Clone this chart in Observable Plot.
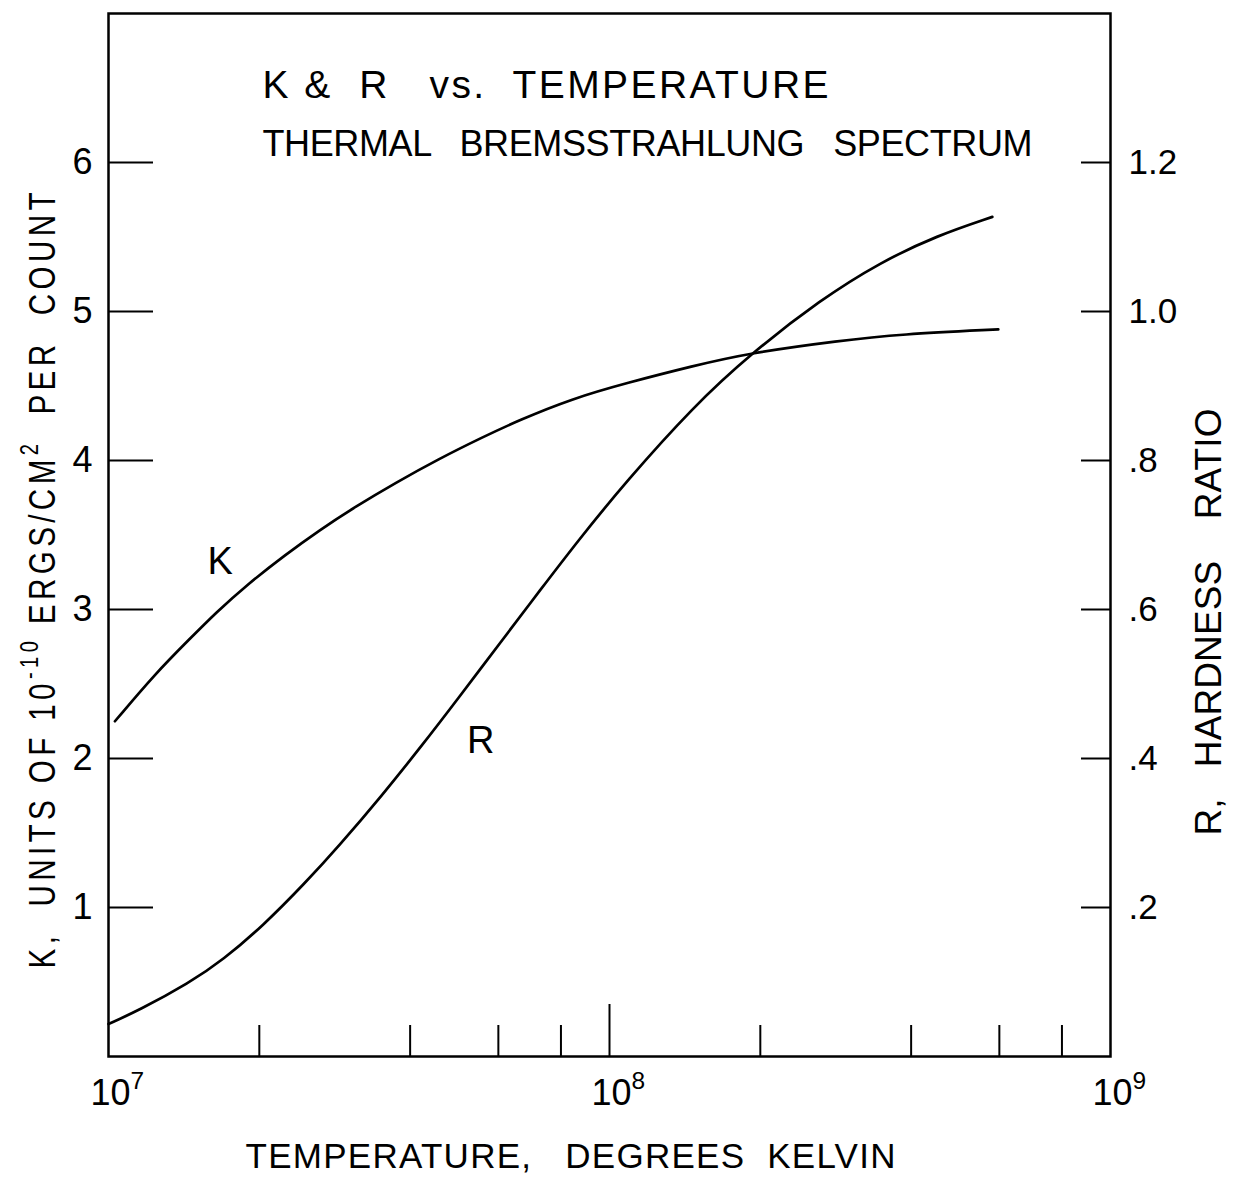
<!DOCTYPE html>
<html>
<head>
<meta charset="utf-8">
<script src="https://cdn.jsdelivr.net/npm/d3@7"></script>
<script src="https://cdn.jsdelivr.net/npm/@observablehq/plot@0.6"></script>
<style>
  html, body { margin: 0; padding: 0; background: #fff; }
  svg text { white-space: pre; }
</style>
</head>
<body>
<div id="chart"></div>
<script>
// ---- data ----
const kTemperature = [1.03e7, 1.24e7, 1.45e7, 1.64e7, 1.88e7, 2.26e7, 2.63e7, 3.11e7, 3.74e7, 4.56e7, 5.57e7, 6.59e7, 8.42e7, 1.08e8, 1.47e8, 1.89e8, 2.89e8, 3.8e8, 5.97e8];
const kValue       = [2.25,   2.57,   2.80,   2.98,   3.16,   3.37,   3.53,   3.69,   3.85,   4.01,   4.155,  4.27,   4.415,  4.52,   4.635,  4.72,   4.805,  4.847, 4.88];
const rTemperature = [1.0e7,  1.15e7, 1.45e7, 1.69e7, 2.03e7, 2.47e7, 2.88e7, 3.52e7, 4.23e7, 4.93e7, 6.2e7, 7.23e7, 8.68e7, 1.08e8, 1.47e8, 1.91e8, 2.64e8, 3.47e8, 4.51e8, 5.81e8];
const rValue       = [0.0436, 0.0619, 0.0988, 0.1293, 0.1749, 0.2330, 0.2822, 0.3509, 0.4180, 0.4761, 0.5647, 0.6238, 0.6936, 0.7719, 0.8723, 0.9427, 1.016, 1.066, 1.102, 1.127];

const kTicks = [1, 2, 3, 4, 5, 6];
const kTickLabels = ["1", "2", "3", "4", "5", "6"];
const rTicks = [0.2, 0.4, 0.6, 0.8, 1.0, 1.2];
const rTickLabels = [".2", ".4", ".6", ".8", "1.0", "1.2"];
const tempDecades = [1e7, 1e8, 1e9];
const tempDecadeLabels = ["10^{7}", "10^{8}", "10^{9}"];
const tempMinorTicks = [2e7, 4e7, 6e7, 8e7, 2e8, 4e8, 6e8, 8e8];
const tempLongTicks = [1e8];

const curveLabelText = ["K", "R"];
const curveLabelTemperature = [1.67e7, 5.53e7];
const curveLabelValue = [3.32, 0.424];     // K units for "K", R units for "R"
const curveLabelAxis = ["K", "R"];

const titleLine1 = "K &  R   vs.  TEMPERATURE";
const titleLine2 = "THERMAL   BREMSSTRAHLUNG   SPECTRUM";
const xLabel = "TEMPERATURE,   DEGREES  KELVIN";
const yLeftLabel = "K,  UNITS OF 10^{-10} ERGS/CM^{2}  PER  COUNT";
const yRightLabel = "R,   HARDNESS    RATIO";

// R axis (right) spans 0–1.4 where the K axis spans 0–7
const R_TO_K = 5;

// ---- tables for the library ----
const kData = kTemperature.map((t, i) => ({t, y: kValue[i]}));
const rData = rTemperature.map((t, i) => ({t, y: rValue[i] * R_TO_K}));
const labelData = curveLabelText.map((text, i) => ({
  text, t: curveLabelTemperature[i],
  y: curveLabelAxis[i] === "R" ? curveLabelValue[i] * R_TO_K : curveLabelValue[i]
}));
const rTickPos = rTicks.map(r => r * R_TO_K);

const chart = Plot.plot({
  width: 1244,
  height: 1185,
  marginLeft: 108,
  marginRight: 134,
  marginTop: 13,
  marginBottom: 129,
  style: {fontFamily: "'Liberation Sans', Arial, 'DejaVu Sans', sans-serif", fontSize: "36px", color: "black", background: "white"},
  x: {type: "log", domain: [1e7, 1e9]},
  y: {domain: [0, 7]},
  marks: [
    Plot.frame({stroke: "black", strokeWidth: 2.5}),
    // left K axis (ticks drawn inward)
    Plot.axisY({anchor: "left", ticks: kTicks, tickFormat: d => kTickLabels[kTicks.indexOf(d)],
      tickSize: -45, tickPadding: 61, strokeWidth: 2, fontSize: 36, label: null}),
    // right R axis
    Plot.axisY({anchor: "right", ticks: rTickPos, tickFormat: d => rTickLabels[rTickPos.indexOf(d)],
      tickSize: -30, tickPadding: 48, strokeWidth: 2, fontSize: 35, label: null}),
    // bottom ticks, inward
    Plot.axisX({ticks: tempMinorTicks, tickSize: -31, strokeWidth: 2, fill: "none", label: null}),
    Plot.axisX({ticks: tempLongTicks, tickSize: -52, strokeWidth: 2, fill: "none", label: null}),
    Plot.axisX({ticks: tempDecades, tickSize: 0, tickPadding: 23, tickFormat: d => tempDecadeLabels[tempDecades.indexOf(d)],
      textAnchor: "start", dx: -18, fontSize: 36, label: null}),
    // curves
    Plot.line(kData, {x: "t", y: "y", curve: "basis", stroke: "black", strokeWidth: 2.7}),
    Plot.line(rData, {x: "t", y: "y", curve: "basis", stroke: "black", strokeWidth: 2.7}),
    Plot.text(labelData, {x: "t", y: "y", text: "text", fontSize: 38, fill: "black"}),
    // titles inside the frame
    Plot.text([titleLine1], {text: d => d, frameAnchor: "top-left", dx: 154, dy: 84, lineAnchor: "bottom", textAnchor: "start", fontSize: 39, fill: "black"}),
    Plot.text([titleLine2], {text: d => d, frameAnchor: "top-left", dx: 154, dy: 142, lineAnchor: "bottom", textAnchor: "start", fontSize: 36, fill: "black"}),
    // axis titles
    Plot.text([xLabel], {text: d => d, frameAnchor: "bottom-left", dx: 137, dy: 111, lineAnchor: "bottom", textAnchor: "start", fontSize: 35, fill: "black"}),
    Plot.text([yLeftLabel], {text: d => d, frameAnchor: "bottom-left", dx: -54, dy: -88, rotate: -90, lineAnchor: "bottom", textAnchor: "start", fontSize: 37, fill: "black"}),
    Plot.text([yRightLabel], {text: d => d, frameAnchor: "bottom-right", dx: 110, dy: -221, rotate: -90, lineAnchor: "bottom", textAnchor: "start", fontSize: 37, fill: "black"})
  ]
});

// ---- typographic post-processing: lengths, condensing, superscripts ----
const fits = [
  {text: titleLine1, length: 566},
  {text: titleLine2, length: 770},
  {text: xLabel, length: 650},
  {text: yRightLabel, length: 427},
  {text: yLeftLabel, length: 776, condense: 0.8}
];
const SVGNS = "http://www.w3.org/2000/svg";
chart.querySelectorAll("text").forEach(t => {
  const s = t.textContent;
  const fit = fits.find(f => f.text === s);
  if (s.includes("^{")) {
    const parts = s.split(/(\^\{[^}]*\})/).filter(p => p);
    t.textContent = "";
    let raised = false;
    for (const p of parts) {
      const ts = document.createElementNS(SVGNS, "tspan");
      if (p.startsWith("^{")) {
        ts.textContent = p.slice(2, -1);
        ts.setAttribute("font-size", "68%");
        ts.setAttribute("dy", "-0.65em");
        raised = true;
      } else {
        ts.textContent = p;
        if (raised) { ts.setAttribute("dy", "0.442em"); raised = false; }
      }
      t.appendChild(ts);
    }
  }
  if (fit) {
    const scale = fit.condense || 1;
    t.setAttribute("textLength", (fit.length / scale).toFixed(1));
    t.setAttribute("lengthAdjust", "spacing");
    if (fit.condense) {
      const tr = t.getAttribute("transform") || "";
      t.setAttribute("transform", tr + ` scale(${fit.condense},1)`);
    }
  }
});

document.getElementById("chart").appendChild(chart);
</script>
</body>
</html>
